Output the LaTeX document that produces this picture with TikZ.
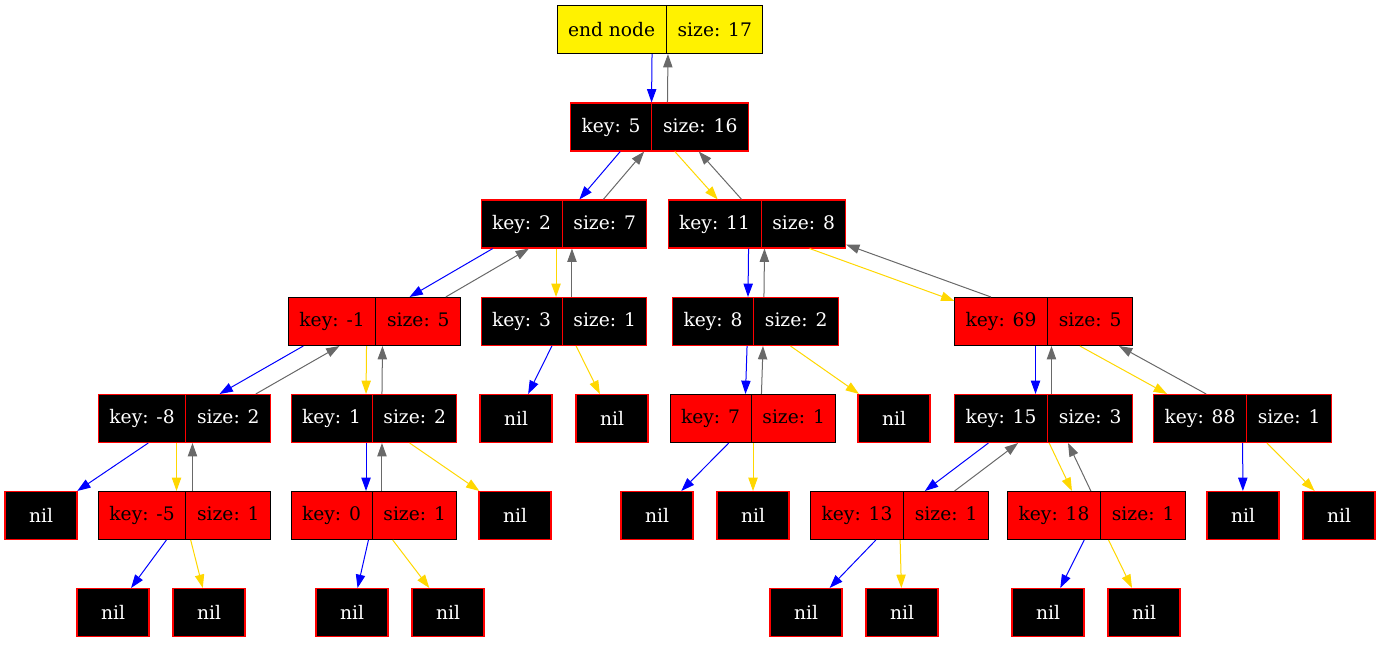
\documentclass[tikz,border=0pt]{standalone}
\usepackage{fontspec}
\setmainfont{DejaVu Serif}
\usetikzlibrary{shapes.multipart,arrows.meta,calc}

\definecolor{edgegold}{HTML}{FFD700}
\definecolor{edgegray}{HTML}{696969}

\tikzset{
  lbl/.style={font=\fontsize{14pt}{16pt}\selectfont},
  rec/.style={lbl,rectangle split,rectangle split horizontal,rectangle split parts=2,
    rectangle split part align=base,inner xsep=8pt,inner ysep=0pt,minimum height=36pt,line width=0.8pt},
  blk/.style={rec,fill=black,draw=red,text=white},
  rd/.style={rec,fill=red,draw=black,text=black},
  nilbox/.style={lbl,fill=black,draw=red,text=white,minimum width=54pt,minimum height=36pt,line width=0.8pt},
  endbox/.style={rec,fill=yellow,draw=black},
  edge/.style={line width=0.75pt,-{Triangle[length=10pt,width=7pt]}},
  blueedge/.style={edge,blue},
  goldedge/.style={edge,edgegold},
  backedge/.style={edge,edgegray}
}

\begin{document}
\begin{tikzpicture}[x=0.75pt,y=-0.75pt]
  \useasboundingbox (0,0) rectangle (1381,644);
  % records
  \node[endbox] (endn) at (660,29.5) {end node \nodepart{two} size: 17};
  \foreach \nm/\x/\y/\k/\s in {n5/659.5/127/5/16, n2/564/224/2/7, n11/757/224/11/8,
      n3/564/321.5/3/1, n8/755.5/321.5/8/2, nm8/184.5/418.5/-8/2, n1/374/418.5/1/2,
      n15/1043.5/418.5/15/3, n88/1242.5/418.5/88/1}
    \node[blk] (\nm) at (\x,\y) {key: \k \nodepart{two} size: \s};
  \foreach \nm/\x/\y/\k/\s in {nm1/374.5/321.5/-1/5, n69/1043.5/321.5/69/5, n7/753/418.5/7/1,
      nm5/184.5/515.5/-5/1, n0/374/515.5/0/1, n13/899.5/515.5/13/1, n18/1096.5/515.5/18/1}
    \node[rd] (\nm) at (\x,\y) {key: \k \nodepart{two} size: \s};
  % leaves
  \foreach \nm/\x/\y in {n3l/516/418.5, n3r/612/418.5, n8r/894/418.5,
      nm8l/41/515.5, n1r/515/515.5, n7l/657/515.5, n7r/753/515.5, n88l/1243/515.5, n88r/1339/515.5,
      nm5l/113/612.5, nm5r/209/612.5, n0l/352/612.5, n0r/448/612.5,
      n13l/806/612.5, n13r/902/612.5, n18l/1048/612.5, n18r/1144/612.5}
    \node[nilbox] (\nm) at (\x,\y) {nil};
  % child and parent links, side by side
  \foreach \a/\b/\c/\t in {endn/n5/blueedge/18, n5/n2/blueedge/13, n5/n11/goldedge/13,
      n2/nm1/blueedge/8, n2/n3/goldedge/18, n11/n8/blueedge/18, n11/n69/goldedge/6,
      nm1/nm8/blueedge/8, nm1/n1/goldedge/18, n8/n7/blueedge/18, n69/n15/blueedge/18,
      n69/n88/goldedge/8, nm8/nm5/goldedge/18, n1/n0/blueedge/18, n15/n13/blueedge/10,
      n15/n18/goldedge/16}{
    \draw[\c] let \p1=($(\b)-(\a)$), \n1={int(round(atan2(\y1,\x1)-\t))},
      \n2={int(round(atan2(\y1,\x1)+180+\t))} in (\a.\n1) -- (\b.\n2);
    \draw[backedge] let \p1=($(\b)-(\a)$), \n1={int(round(atan2(\y1,\x1)+180-\t))},
      \n2={int(round(atan2(\y1,\x1)+\t))} in (\b.\n1) -- (\a.\n2);
  }
  \foreach \a/\b/\c in {n3/n3l/blueedge, n3/n3r/goldedge, n8/n8r/goldedge,
      nm8/nm8l/blueedge, n1/n1r/goldedge, n7/n7l/blueedge, n7/n7r/goldedge,
      n88/n88l/blueedge, n88/n88r/goldedge, nm5/nm5l/blueedge, nm5/nm5r/goldedge,
      n0/n0l/blueedge, n0/n0r/goldedge, n13/n13l/blueedge, n13/n13r/goldedge,
      n18/n18l/blueedge, n18/n18r/goldedge}
    \draw[\c] (\a) -- (\b);
\end{tikzpicture}
\end{document}
